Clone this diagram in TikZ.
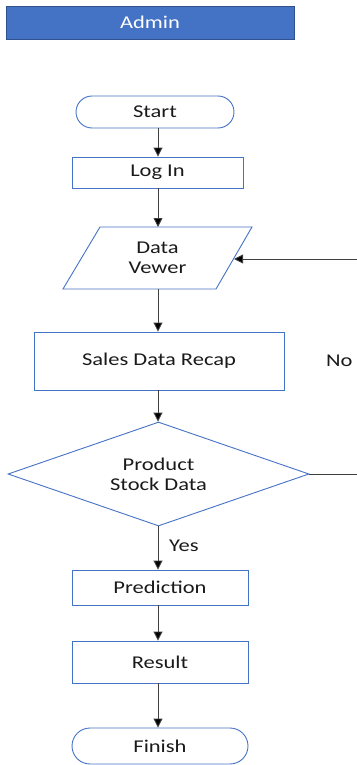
\documentclass[tikz,border=0pt]{standalone}
\usepackage{fontspec}
\setmainfont{Carlito}[FakeStretch=1.25]
\usetikzlibrary{shapes.geometric,arrows.meta}
\definecolor{boxblue}{HTML}{4472C4}
\definecolor{edgeblue}{HTML}{2F528F}
\definecolor{txt}{HTML}{1A1A1A}
\begin{document}
\begin{tikzpicture}[x=1pt,y=-1pt,
  every node/.style={font=\fontsize{18}{20}\selectfont, text=txt},
  box/.style={draw=boxblue, line width=0.9pt, inner sep=0pt, fill=white},
  term/.style={box, rounded corners=16pt},
  arr/.style={draw=black!75, line width=0.9pt, -{Triangle[length=9pt,width=9pt,fill=black]}},
  line/.style={draw=black!75, line width=0.9pt}]
\useasboundingbox (0,0) rectangle (356,765);
\coordinate (spine) at (158,0);
% banner
\node[draw=edgeblue, fill=boxblue, line width=0.9pt, minimum width=288pt, minimum height=33pt, inner sep=0pt, text=white] (admin) at (150,22.5) {Admin};
% nodes
\node[term, minimum width=158pt, minimum height=32pt] (start) at (155,112) {Start};
\node[box, minimum width=171pt, minimum height=31pt] (login) at (157.5,172.5) {Log In};
\draw[boxblue, line width=0.9pt] (100,227) -- (252,227) -- (216,289) -- (63,289) -- cycle;
\node[align=center] (dv) at (157.5,258) {Data\\Vewer};
\coordinate (dvT) at (158,227);
\coordinate (dvB) at (158,289);
\coordinate (dvR) at (234,259);
\node[box, minimum width=250pt, minimum height=58pt] (sales) at (159,361) {Sales Data Recap};
\node[diamond, aspect=3, draw=boxblue, line width=0.9pt, inner sep=0pt, minimum width=301pt, minimum height=104pt, align=center] (stock) at (158.5,474) {Product\\Stock Data};
\node[box, minimum width=176pt, minimum height=35pt] (pred) at (160,587.5) {Prediction};
\node[box, minimum width=176pt, minimum height=42pt] (result) at (160,662) {Result};
\node[term, rounded corners=18pt, minimum width=176pt, minimum height=36pt] (finish) at (160,746) {Finish};
% labels
\node[anchor=west, inner sep=0pt] (no) at (326,361) {No};
\node[anchor=west, inner sep=0pt] (yes) at (169,546) {Yes};
% connectors
\draw[arr] (start.south -| spine) -- (login.north -| spine);
\draw[arr] (login.south -| spine) -- (dvT);
\draw[arr] (dvB) -- (sales.north -| spine);
\draw[arr] (sales.south -| spine) -- (stock.north -| spine);
\draw[arr] (stock.south -| spine) -- (pred.north -| spine);
\draw[arr] (pred.south -| spine) -- (result.north -| spine);
\draw[arr] (result.south -| spine) -- (finish.north -| spine);
\coordinate (loopA) at (364,474);
\coordinate (loopB) at (364,259);
\draw[line] (stock.east) -- (loopA) -- (loopB);
\draw[arr] (loopB) -- (dvR);
\end{tikzpicture}
\end{document}
